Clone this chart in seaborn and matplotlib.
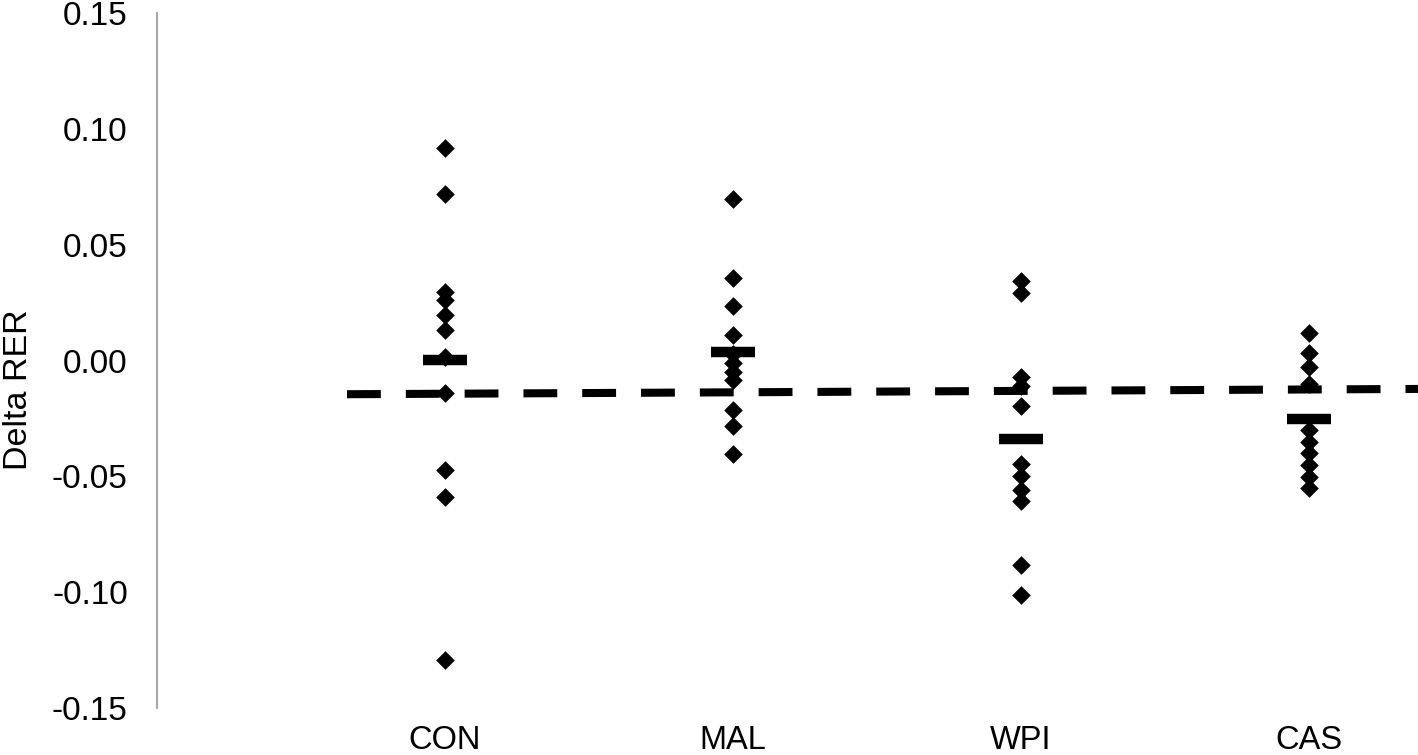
import numpy as np
import pandas as pd
import matplotlib
matplotlib.use('Agg')
import matplotlib.pyplot as plt
import seaborn as sns
from matplotlib.ticker import FormatStrFormatter, MultipleLocator

groups = ['CON', 'MAL', 'WPI', 'CAS']

con_vals = [0.0917, 0.0720, 0.0298, 0.0262, 0.0197, 0.0133, 0.0017,
            -0.0141, -0.0472, -0.0587, -0.1292]
mal_vals = [0.0697, 0.0356, 0.0236, 0.0110, 0.0030, -0.0011, -0.0047,
            -0.0083, -0.0213, -0.0282, -0.0404]
wpi_vals = [0.0342, 0.0294, -0.0069, -0.0109, -0.0197, -0.0446, -0.0498,
            -0.0558, -0.0604, -0.0882, -0.1012]
cas_vals = [0.0118, 0.0032, -0.0026, -0.0099, -0.0299, -0.0350, -0.0400,
            -0.0451, -0.0501, -0.0551]

# dashed reference line (two end points, category units)
ref_x = [-0.34, 3.40]
ref_y = [-0.0145, -0.0122]

rows = []
for g, vals in zip(groups, [con_vals, mal_vals, wpi_vals, cas_vals]):
    for v in vals:
        rows.append({'group': g, 'delta': v})
df = pd.DataFrame(rows)

sns.set_style('white')
plt.rcParams['font.family'] = ['Liberation Sans', 'DejaVu Sans']
plt.rcParams['axes.unicode_minus'] = False
plt.rcParams['text.color'] = 'black'
plt.rcParams['axes.labelcolor'] = 'black'
plt.rcParams['xtick.color'] = 'black'
plt.rcParams['ytick.color'] = 'black'

fig = plt.figure(figsize=(14.18, 7.55), dpi=100)
ax = fig.add_axes([157 / 1418, 1 - 708 / 755, 1 - 157 / 1418, (708 - 13.3) / 755])

sns.stripplot(data=df, x='group', y='delta', order=groups, jitter=False,
              color='black', marker='D', size=9.5, linewidth=0, ax=ax, zorder=3)

sns.pointplot(data=df, x='group', y='delta', order=groups, estimator='mean',
              errorbar=None, color='black', markers='_', linestyles='none',
              markersize=32, markeredgewidth=7.5, ax=ax, zorder=4)

ax.plot(ref_x, ref_y, color='black', lw=5.8, linestyle=(0, (4.2, 3.1)),
        dash_capstyle='butt', zorder=5, clip_on=False)

ax.set_xlim(-1, 3.38)
ax.set_ylim(-0.15, 0.15)
ax.yaxis.set_major_locator(MultipleLocator(0.05))
ax.yaxis.set_major_formatter(FormatStrFormatter('%.2f'))

ax.set_xlabel('')
ax.set_ylabel('Delta RER', fontsize=24.5)
# label centre sits a bit below the middle of the axis
ax.yaxis.set_label_coords((34 - 157) / 1261, (708 - 390) / (708 - 13.3))
ax.tick_params(axis='y', length=0, pad=21, labelsize=24, labelcolor='black')
ax.tick_params(axis='x', length=0, pad=12, labelsize=23.5, labelcolor='black')

for s in ['top', 'right', 'bottom']:
    ax.spines[s].set_visible(False)
ax.spines['left'].set_color('#a6a6a6')
ax.spines['left'].set_linewidth(1.5)

ax.set_facecolor('white')
fig.savefig('out.png', dpi=100, facecolor='white')
